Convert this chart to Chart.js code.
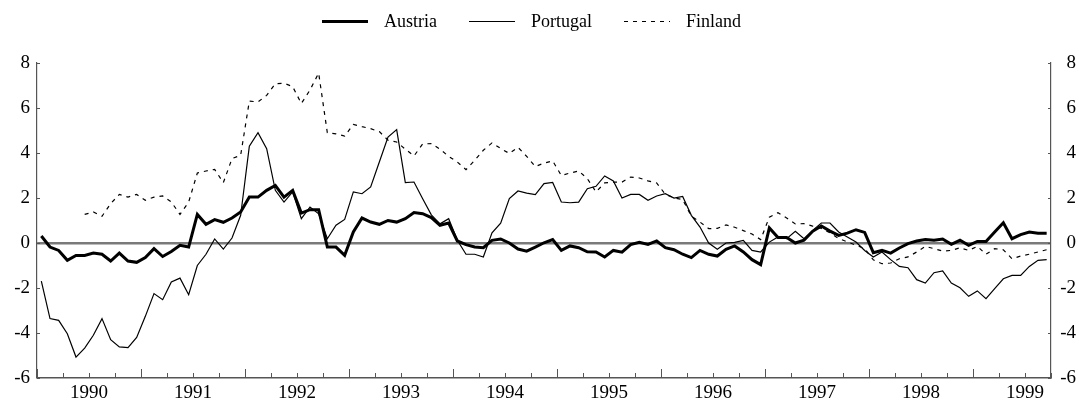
<!DOCTYPE html>
<html>
<head>
<meta charset="utf-8">
<script src="https://cdn.jsdelivr.net/npm/chart.js@4"></script>
<style>
  body { margin: 0; background: #fff; }
  #wrap { position: relative; width: 1079px; height: 403px; }
  #legend { position: absolute; top: 11px; left: 322px; display: flex; align-items: center;
            font-family: "Liberation Serif", "Times New Roman", serif; font-size: 18px; color: #000; }
  #legend .item { display: flex; align-items: center; margin-right: 32px; }
  #legend .sample { width: 46px; margin-right: 16px; background: #000; }
  #legend .dash { background: repeating-linear-gradient(to right, #000 0 4px, transparent 4px 9px); }
</style>
</head>
<body>
<div id="wrap">
  <div id="legend">
    <div class="item"><span class="sample" style="height:3px"></span>Austria</div>
    <div class="item"><span class="sample" style="height:1.3px"></span>Portugal</div>
    <div class="item"><span class="sample dash" style="height:1.3px"></span>Finland</div>
  </div>
  <canvas id="myChart" width="1079" height="403"></canvas>
</div>
<script>
// monthly figures, Jan 1990 - Sep 1999
var years = [1990, 1991, 1992, 1993, 1994, 1995, 1996, 1997, 1998, 1999];
var yTicks = [-6, -4, -2, 0, 2, 4, 6, 8];

var austria = [
  0.31, -0.18, -0.33, -0.77, -0.55, -0.55, -0.45, -0.5, -0.8, -0.45, -0.8, -0.86,
  -0.65, -0.25, -0.6, -0.38, -0.1, -0.18, 1.27, 0.83, 1.04, 0.92, 1.11, 1.38,
  2.04, 2.04, 2.34, 2.56, 2.04, 2.34, 1.33, 1.48, 1.48, -0.18, -0.18, -0.55,
  0.49, 1.11, 0.93, 0.83, 1.0, 0.93, 1.08, 1.35, 1.3, 1.13, 0.79, 0.89,
  0.09, -0.07, -0.18, -0.21, 0.12, 0.18, 0, -0.27, -0.36, -0.18, 0.01, 0.15,
  -0.33, -0.13, -0.21, -0.39, -0.4, -0.62, -0.33, -0.41, -0.07, 0.03, -0.06, 0.09,
  -0.21, -0.3, -0.5, -0.65, -0.33, -0.5, -0.58, -0.28, -0.13, -0.4, -0.74, -0.96,
  0.67, 0.24, 0.24, 0, 0.12, 0.52, 0.76, 0.53, 0.34, 0.44, 0.59, 0.47,
  -0.43, -0.33, -0.45, -0.22, -0.03, 0.09, 0.15, 0.12, 0.18, -0.06, 0.12, -0.1,
  0.07, 0.07, 0.49, 0.9, 0.19, 0.37, 0.49, 0.43, 0.43
];
var portugal = [
  -1.69, -3.36, -3.44, -4.03, -5.07, -4.67, -4.1, -3.36, -4.3, -4.62, -4.65, -4.2,
  -3.26, -2.25, -2.52, -1.73, -1.56, -2.3, -1.0, -0.5, 0.18, -0.27, 0.22, 1.23,
  4.3, 4.9, 4.19, 2.34, 1.82, 2.27, 1.08, 1.6, 1.3, 0.19, 0.79, 1.05,
  2.27, 2.19, 2.49, 3.6, 4.71, 5.04, 2.68, 2.71, 1.97, 1.25, 0.85, 1.08,
  0.12, -0.5, -0.5, -0.62, 0.45, 0.88, 1.97, 2.31, 2.22, 2.15, 2.64, 2.69,
  1.82, 1.79, 1.82, 2.41, 2.52, 2.98, 2.76, 2.0, 2.16, 2.16, 1.9, 2.09,
  2.19, 2.0, 2.07, 1.23, 0.71, 0.0, -0.28, 0, 0.03, 0.12, -0.33, -0.4,
  0.04, 0.27, 0.19, 0.52, 0.19, 0.56, 0.89, 0.89, 0.49, 0.27, 0.04, -0.33,
  -0.62, -0.4, -0.74, -1.04, -1.1, -1.63, -1.78, -1.32, -1.24, -1.78, -1.99, -2.37,
  -2.13, -2.47, -2.03, -1.59, -1.44, -1.44, -1.04, -0.77, -0.74
];
var finland = [
  null, null, null, null, null, 1.27, 1.38, 1.19, 1.75, 2.16, 2.04, 2.16,
  1.9, 2.04, 2.09, 1.82, 1.27, 1.82, 3.11, 3.2, 3.27, 2.68, 3.75, 3.9,
  6.31, 6.27, 6.56, 7.08, 7.1, 6.95, 6.2, 6.8, 7.55, 4.9, 4.85, 4.75,
  5.27, 5.17, 5.08, 4.95, 4.57, 4.49, 4.17, 3.87, 4.4, 4.42, 4.17, 3.85,
  3.6, 3.26, 3.67, 4.12, 4.45, 4.2, 3.98, 4.25, 3.85, 3.4, 3.55, 3.65,
  3.0, 3.11, 3.2, 2.86, 2.27, 2.67, 2.71, 2.71, 2.93, 2.89, 2.76, 2.67,
  2.16, 2.01, 1.93, 1.19, 0.93, 0.64, 0.65, 0.8, 0.7, 0.55, 0.4, 0.15,
  1.15, 1.35, 1.11, 0.85, 0.86, 0.75, 0.65, 0.45, 0.2, 0.05, -0.1, -0.25,
  -0.75, -0.92, -0.89, -0.7, -0.62, -0.4, -0.15, -0.25, -0.36, -0.33, -0.21, -0.33,
  -0.15, -0.5, -0.25, -0.3, -0.7, -0.58, -0.5, -0.4, -0.3
];

var months = austria.length; // 117
var axisColor = '#555';
var font = { family: "'Liberation Serif', 'Times New Roman', serif", size: 19 };

function toPoints(arr) {
  return arr.map(function (v, i) { return { x: i + 0.5, y: v }; });
}

// small tick marks pointing into the plot
var innerTicks = {
  id: 'innerTicks',
  afterDraw: function (chart) {
    var ctx = chart.ctx, a = chart.chartArea, x = chart.scales.x, y = chart.scales.y;
    ctx.save();
    ctx.strokeStyle = axisColor;
    ctx.lineWidth = 1;
    ctx.beginPath();
    for (var m = 0; m <= months; m += 3) {
      var px = Math.round(x.getPixelForValue(m)) + 0.5;
      var len = m % 12 === 0 ? 9 : 5;
      ctx.moveTo(px, a.bottom);
      ctx.lineTo(px, a.bottom - len);
    }
    yTicks.forEach(function (v) {
      var py = Math.round(y.getPixelForValue(v)) + 0.5;
      ctx.moveTo(a.left, py); ctx.lineTo(a.left + 3, py);
      ctx.moveTo(a.right, py); ctx.lineTo(a.right - 3, py);
    });
    ctx.stroke();
    ctx.restore();
  }
};

var ctx = document.getElementById('myChart');
var myLineChart = new Chart(ctx, {
  type: 'line',
  data: {
    datasets: [{
      label: 'Austria',
      data: toPoints(austria),
      borderColor: '#000',
      borderWidth: 3,
      pointRadius: 0,
      tension: 0
    }, {
      label: 'Portugal',
      data: toPoints(portugal),
      borderColor: '#000',
      borderWidth: 1.2,
      pointRadius: 0,
      tension: 0
    }, {
      label: 'Finland',
      data: toPoints(finland),
      borderColor: '#000',
      borderWidth: 1.2,
      borderDash: [4, 5],
      pointRadius: 0,
      tension: 0
    }]
  },
  options: {
    responsive: false,
    animation: false,
    devicePixelRatio: 1,
    layout: { padding: { top: 63, left: 0, right: 3, bottom: 0 } },
    plugins: { legend: { display: false }, tooltip: { enabled: false } },
    scales: {
      x: {
        type: 'linear',
        min: 0,
        max: months,
        afterBuildTicks: function (scale) {
          scale.ticks = years.map(function (yr, k) { return { value: 12 * k + 6 }; });
        },
        afterFit: function (scale) { scale.height = 25; },
        ticks: {
          autoSkip: false,
          maxRotation: 0,
          padding: 4,
          color: '#000',
          font: font,
          callback: function (v, i) { return String(years[i]); }
        },
        grid: { display: false, drawTicks: false },
        border: { color: axisColor, width: 1.5 }
      },
      y: {
        position: 'left',
        min: -6,
        max: 8,
        afterFit: function (scale) { scale.width = 37; },
        ticks: { stepSize: 2, padding: 7, color: '#000', font: font },
        grid: {
          drawTicks: false,
          color: function (c) { return c.tick && c.tick.value === 0 ? '#7a7a7a' : 'rgba(0,0,0,0)'; },
          lineWidth: function (c) { return c.tick && c.tick.value === 0 ? 2.5 : 0; }
        },
        border: { color: axisColor, width: 1.2 }
      },
      y2: {
        position: 'right',
        min: -6,
        max: 8,
        afterFit: function (scale) { scale.width = 25; },
        ticks: { stepSize: 2, padding: 6, crossAlign: 'far', color: '#000', font: font },
        grid: { display: false, drawTicks: false },
        border: { color: axisColor, width: 1.2 }
      }
    }
  },
  plugins: [innerTicks]
});
</script>
</body>
</html>
